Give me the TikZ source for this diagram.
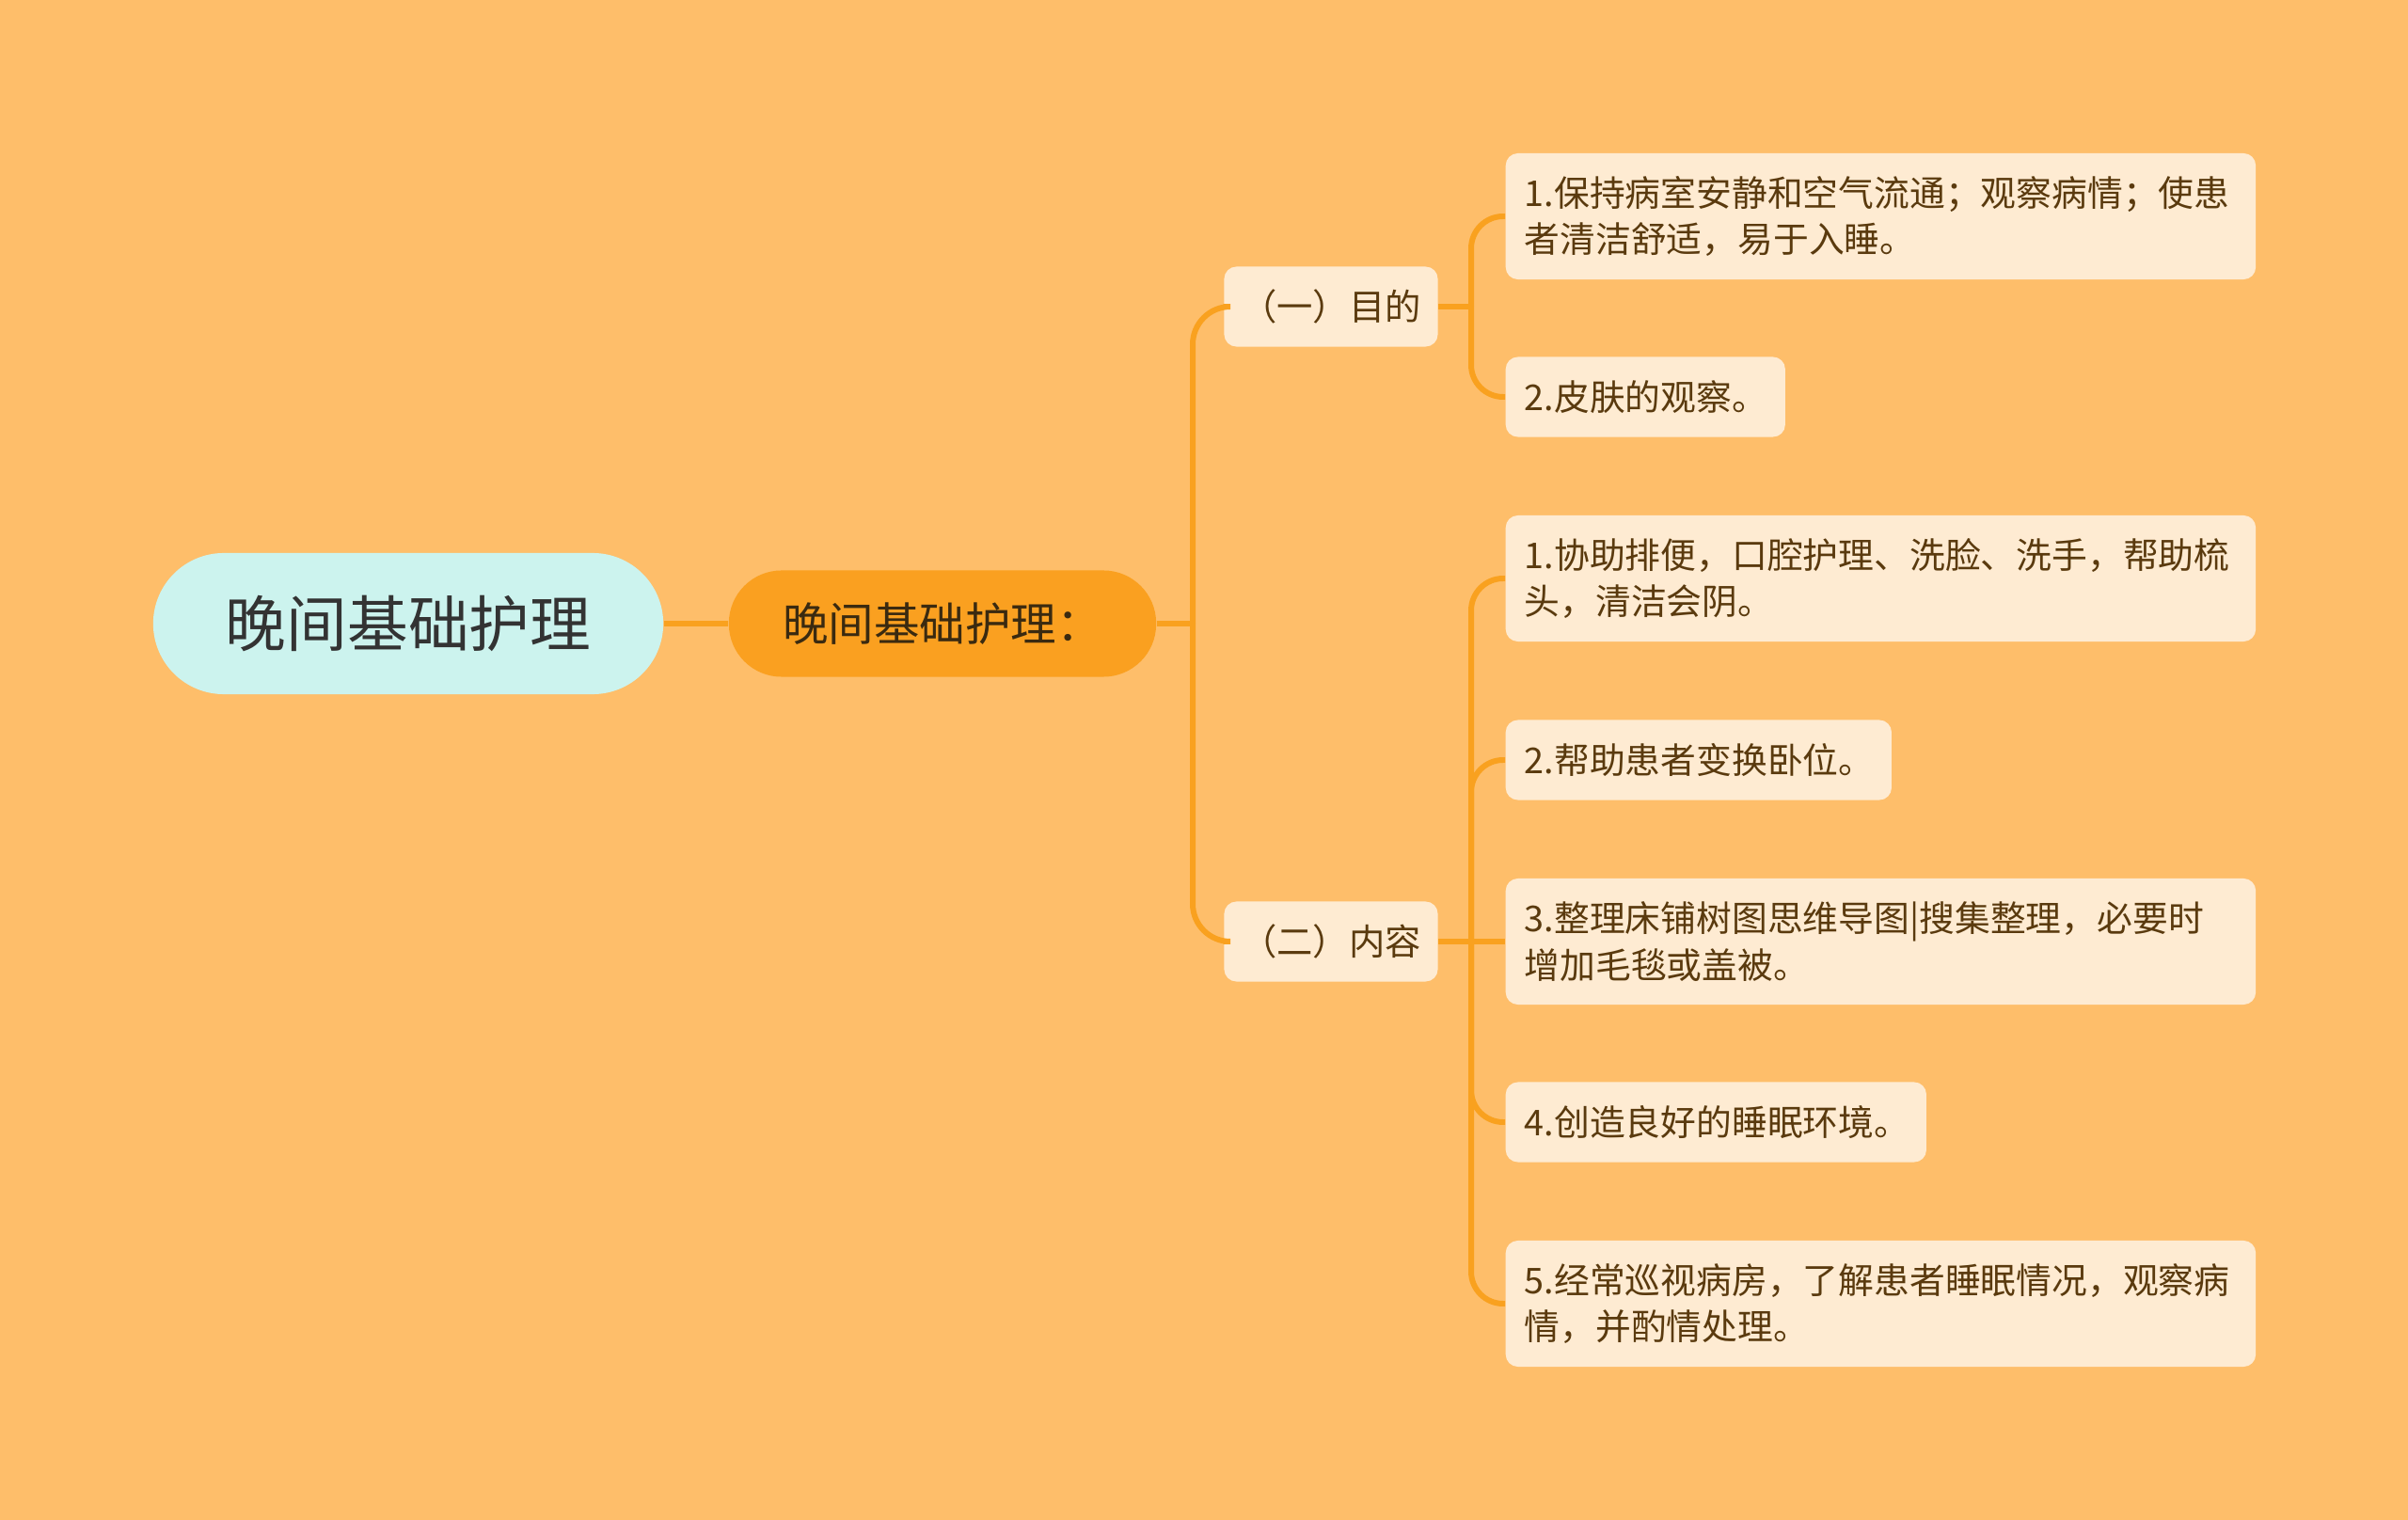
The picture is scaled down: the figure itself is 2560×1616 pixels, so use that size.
\documentclass[tikz,border=0pt]{standalone}
\usepackage{fontspec}
\setmainfont{Noto Sans CJK SC}
\definecolor{bgc}{HTML}{FEBE6A}
\definecolor{linec}{HTML}{F9A11F}
\definecolor{rootf}{HTML}{CCF3EE}
\definecolor{l1f}{HTML}{FAA020}
\definecolor{leaff}{HTML}{FEEBD2}
\definecolor{leaft}{HTML}{5A3A0E}
\definecolor{roott}{HTML}{333333}
\definecolor{l1t}{HTML}{3A2A10}
\begin{document}
\begin{tikzpicture}[x=0.01cm,y=-0.01cm,
  conn/.style={draw=linec, line width=1.7pt, rounded corners=0.34cm},
  rootbox/.style={fill=rootf, rounded corners=0.75cm, minimum width=5.42cm, minimum height=1.5cm, inner sep=0pt, text=roott, font=\fontsize{18.4}{22}\selectfont},
  lonebox/.style={fill=l1f, rounded corners=0.56cm, minimum width=4.54cm, minimum height=1.13cm, inner sep=0pt, text=l1t, font=\fontsize{13.8}{16}\selectfont},
  ltwobox/.style={fill=leaff, rounded corners=0.13cm, minimum width=2.27cm, minimum height=0.85cm, inner sep=0pt, text=leaft, font=\fontsize{10.9}{13.9}\selectfont},
  leaf/.style={fill=leaff, rounded corners=0.13cm, anchor=west, align=left, inner xsep=0.2cm, inner ysep=0pt, text=leaft, font=\fontsize{10.75}{14}\selectfont},
  one/.style={minimum height=0.85cm},
  two/.style={minimum height=1.34cm}]
\fill[bgc] (0,0) rectangle (2560,1616);
\useasboundingbox (0,0) rectangle (2560,1616);

\node[rootbox] (root) at (434,663) {晚间基础护理};
\node[lonebox] (l1) at (1002,663) {晚间基础护理：};
\node[ltwobox] (l2a) at (1415,326) {\raisebox{-0.4ex}{（一）目的}};
\node[ltwobox] (l2b) at (1415,1001) {\raisebox{-0.4ex}{（二）内容}};

\node[leaf, two, text width=7.57cm] (a1) at (1600,230) {1.保持病室安静和空气流通；观察病情；使患\\者清洁舒适，易于入睡。};
\node[leaf, one, text width=2.57cm] (a2) at (1600,422) {2.皮肤的观察。};

\node[leaf, two, text width=7.57cm] (b1) at (1600,615) {1.协助排便，口腔护理、洗脸、洗手，帮助梳\\头，清洁会阴。};
\node[leaf, one, text width=3.70cm] (b2) at (1600,808) {2.帮助患者变换卧位。};
\node[leaf, two, text width=7.57cm] (b3) at (1600,1001) {3.整理床铺树图思维导图|搜集整理，必要时\\增加毛毯或盖被。};
\node[leaf, one, text width=4.07cm] (b4) at (1600,1193) {4.创造良好的睡眠环境。};
\node[leaf, two, text width=7.57cm] (b5) at (1600,1386) {5.经常巡视病房，了解患者睡眠情况，观察病\\情，并酌情处理。};

\coordinate (s0) at (1268,663);
\coordinate (ja) at (1564,326);
\coordinate (jb) at (1564,1001);

\draw[conn, line width=1.9pt] (root.east) -- (l1.west);
\draw[conn] (l1.east) -- (s0);
\draw[conn, rounded corners=0.4cm] (s0) |- (l2a.west);
\draw[conn, rounded corners=0.4cm] (s0) |- (l2b.west);

\draw[conn] (l2a.east) -- (ja);
\draw[conn] (ja) |- (a1.west);
\draw[conn] (ja) |- (a2.west);

\draw[conn] (l2b.east) -- (b3.west);
\draw[conn] (jb) |- (b1.west);
\draw[conn] (jb) |- (b2.west);
\draw[conn] (jb) |- (b4.west);
\draw[conn] (jb) |- (b5.west);
\end{tikzpicture}
\end{document}
